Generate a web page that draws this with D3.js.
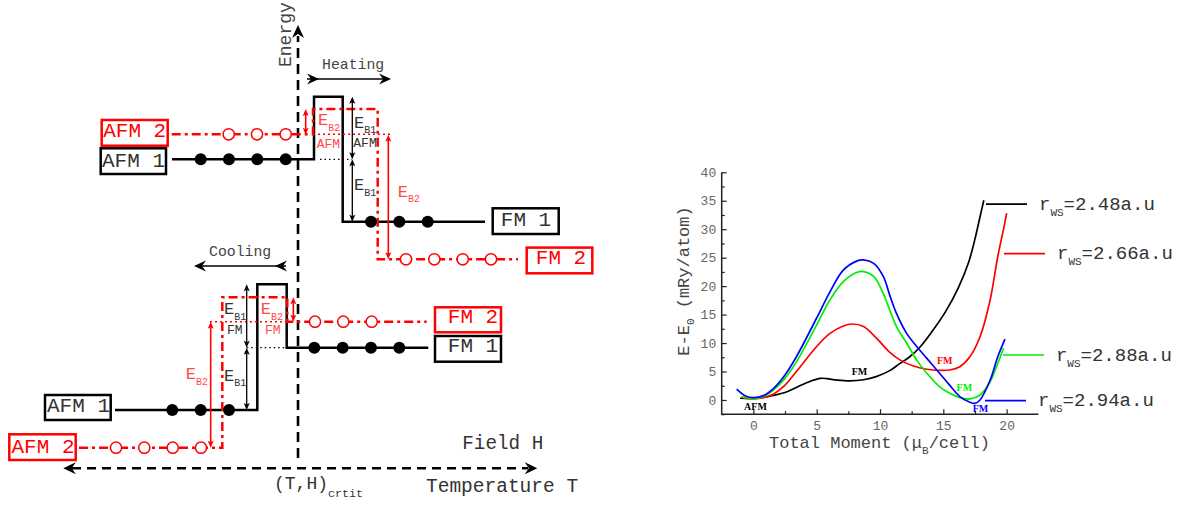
<!DOCTYPE html>
<html><head><meta charset="utf-8">
<script src="https://cdn.jsdelivr.net/npm/d3@7"></script>
<style>html,body{margin:0;padding:0;background:#fff;}svg{display:block}</style>
</head><body>
<svg id="c" width="1202" height="506"></svg>
<script>
// ---------------- DATA (right chart) ----------------
const rwsLabels = ["2.48", "2.66", "2.88", "2.94"];
const seriesColors = ["#000000", "#ff0000", "#00ee00", "#0000ff"];
const curve248 = [[-1.05,0.3],[0,0.3],[0.8,0.45],[1.6,0.8],[2.5,1.3],[3.4,2.2],[4.5,3.3],[5.3,3.8],[5.8,3.75],[6.6,3.5],[7.6,3.35],[8.7,3.55],[9.7,4.1],[10.8,5.2],[11.5,6.3],[12.3,7.5],[13.2,9.4],[14.2,12.3],[15.2,15.6],[16.2,19.8],[17.0,24.2],[17.5,28.3],[17.9,32.2],[18.2,35.1]];
const curve266 = [[-0.8,0.3],[0,0.2],[0.8,0.4],[1.6,1.05],[2.5,2.6],[3.4,5.0],[5,9.4],[6.05,11.7],[7.1,13.0],[7.8,13.35],[8.7,12.9],[9.7,10.9],[10.8,8.3],[11.6,7.0],[12.6,6.0],[13.7,5.4],[14.7,5.2],[15.5,5.27],[16.3,5.85],[17.1,7.6],[17.9,11.1],[18.7,17.6],[19.3,25.2],[19.8,30.5],[20,32.8]];
const curve288 = [[-0.95,0.6],[0,0.2],[0.8,0.6],[1.6,1.8],[2.5,3.8],[3.4,6.7],[5,13.2],[6.05,17.6],[7.1,20.8],[8.15,22.4],[8.7,22.55],[9.5,21.7],[10.26,18.7],[10.6,16.8],[11.3,12.9],[12.1,10.0],[12.9,7.0],[13.7,4.7],[14.7,2.35],[15.5,1.17],[16.3,0.41],[17.1,0.18],[17.9,0.88],[18.7,3.2],[19.2,5.85],[19.75,9.1]];
const curve294 = [[-1.32,1.9],[-0.66,0.76],[0,0.4],[0.8,0.76],[1.6,2.05],[2.5,4.4],[3.4,7.6],[5,14.4],[6.05,19],[7.1,22.8],[8.15,24.4],[8.7,24.6],[9.5,24.0],[10.26,21.7],[10.8,18.2],[11.3,15.2],[12.1,11.7],[12.9,9.4],[13.7,7.3],[14.7,4.7],[15.5,2.6],[16.3,0.6],[17.1,-0.4],[17.5,-0.6],[17.9,0],[18.7,3.5],[19.3,7.6],[19.87,10.7]];
const xTickValues = [0, 5, 10, 15, 20];
const xMinorTicks = [2.5, 7.5, 12.5, 17.5];
const yTickValues = [0, 5, 10, 15, 20, 25, 30, 35, 40];
const yMinorTicks = [-2.5, 2.5, 7.5, 12.5, 17.5, 22.5, 27.5, 32.5, 37.5];
const curveNames = [
  {t:"AFM", m:-0.73, e:-1.8, c:0},
  {t:"FM",  m:7.77,  e:4.4,  c:0},
  {t:"FM",  m:14.5,  e:6.3,  c:1},
  {t:"FM",  m:16.05, e:1.6,  c:2},
  {t:"FM",  m:17.32, e:-2.1, c:3}
];
const legendAnchors = [[18.37,34.4],[19.79,25.7],[19.71,7.9],[18.29,-0.12]];

// ---------------- DATA (left schematic, diagram coordinates) ----------------
const boxes = [
  {t:"AFM 2", x:101.7, y:120,   w:66,   h:25.7, tx:134.7, ty:137,   red:true},
  {t:"AFM 1", x:100.7, y:148.3, w:65.3, h:25.7, tx:133.5, ty:166.7, red:false},
  {t:"FM 1",  x:492.7, y:208.3, w:66,   h:25.7, tx:526,   ty:226,   red:false},
  {t:"FM 2",  x:526.7, y:247.6, w:65.6, h:25.7, tx:561,   ty:264,   red:true},
  {t:"FM 2",  x:435,   y:307.3, w:66,   h:25,   tx:473,   ty:323.3, red:true},
  {t:"FM 1",  x:435,   y:336,   w:66,   h:25.7, tx:473,   ty:351.7, red:false},
  {t:"AFM 1", x:45,    y:395,   w:65.7, h:25,   tx:78.5,  ty:412.3, red:false},
  {t:"AFM 2", x:9.3,   y:434.3, w:66.4, h:25.7, tx:43,    ty:452.7, red:true}
];
const blackPaths = [
  [[172,159.3],[314,159.3],[314,96.7],[342.7,96.7],[342.7,221.7],[485,221.7]],
  [[115,410],[257.3,410],[257.3,284.3],[286.7,284.3],[286.7,347.7],[428.3,347.7]]
];
const redPaths = [
  [[171.7,134.3],[313,134.3],[313,109],[377.7,109],[377.7,259.3],[518,259.3]],
  [[79,447.7],[222.3,447.7],[222.3,297.3],[287.3,297.3],[287.3,321.7],[426.7,321.7]]
];
const filledDots = [[200.7,159.3],[229,159.3],[257.3,159.3],[285.7,159.3],[371,221.7],[399.3,221.7],[427.7,221.7],
  [314.3,347.7],[342.7,347.7],[371,347.7],[399.3,347.7],[172.3,410],[200.7,410],[229,410]];
const openDots = [[228.7,134.3],[257,134.3],[285.7,134.3],[406,259.3],[434.3,259.3],[462.7,259.3],[491,259.3],
  [315,321.7],[343.3,321.7],[371.7,321.7],[116,447.7],[144.3,447.7],[172.7,447.7],[201,447.7]];
const redDotted = [[313,390.7,134.3],[210,287,321.7]];
const blackDotted = [[320,352,159.3],[246.7,287,347.7]];
const dblArrows = [
  {x:305.7, y1:109,   y2:134.7, red:true},
  {x:352.3, y1:96.7,  y2:159.3, red:false},
  {x:352.3, y1:159.3, y2:221.7, red:false},
  {x:388.3, y1:134.7, y2:259.3, red:true},
  {x:293.3, y1:297.3, y2:321.7, red:true},
  {x:246.7, y1:284.3, y2:347.7, red:false},
  {x:246.7, y1:347.7, y2:410,   red:false},
  {x:210.7, y1:321.7, y2:447.7, red:true}
];
const ebLabels = [
  {x:318,   y:125.3, s:"B2", red:true},
  {x:354,   y:127.7, s:"B1", red:false},
  {x:354,   y:190,   s:"B1", red:false},
  {x:397.7, y:196.7, s:"B2", red:true},
  {x:224,   y:314,   s:"B1", red:false},
  {x:260.7, y:314,   s:"B2", red:true},
  {x:224,   y:380.7, s:"B1", red:false},
  {x:185.7, y:379.3, s:"B2", red:true}
];
const phaseTags = [
  {t:"AFM", x:316.7, y:147.7, red:true},
  {t:"AFM", x:353.3, y:146.7, red:false},
  {t:"FM",  x:227,   y:334,   red:false},
  {t:"FM",  x:265,   y:334,   red:true}
];

// ---------------- DRAW ----------------
const svg = d3.select("#c");
svg.append("rect").attr("width",1202).attr("height",506).attr("fill","#fff");
const MONO = "'Liberation Mono','Courier New',monospace";
const RED = "#ff0000", LRED = "#ff4a4a", TXT = "#333";

// ---------- left schematic ----------
const L = svg.append("g");
const lineGen = d3.line();

function arrowHead(g, tx, ty, dx, dy, len, hw, notch, color){
  // dx,dy unit direction of pointing
  const px = -dy, py = dx;
  const bx = tx - dx*len, by = ty - dy*len;
  const nx = tx - dx*(len-notch), ny = ty - dy*(len-notch);
  g.append("path").attr("d", `M${tx},${ty}L${bx+px*hw},${by+py*hw}L${nx},${ny}L${bx-px*hw},${by-py*hw}Z`).attr("fill", color);
}

// energy axis
L.append("line").attr("x1",298).attr("x2",298).attr("y1",458).attr("y2",36)
  .attr("stroke","#000").attr("stroke-width",2.6).attr("stroke-dasharray","10,6");
arrowHead(L, 298, 25, 0, -1, 13, 6, 4, "#000");
L.append("text").attr("transform","translate(291,67) rotate(-90)").attr("font-family",MONO)
  .attr("font-size",18).attr("fill","#444").text("Energy");

// bottom double-headed dashed axis
L.append("line").attr("x1",72).attr("x2",528).attr("y1",468.3).attr("y2",468.3)
  .attr("stroke","#000").attr("stroke-width",2.6).attr("stroke-dasharray","9,6");
arrowHead(L, 63.3, 468.3, -1, 0, 12.5, 6, 4, "#000");
arrowHead(L, 537.3, 468.3, 1, 0, 12.5, 6, 4, "#000");

// heating / cooling arrows
L.append("line").attr("x1",307).attr("x2",389).attr("y1",79).attr("y2",79).attr("stroke","#000").attr("stroke-width",1.5);
arrowHead(L, 391, 79, 1, 0, 12, 5.5, 4, "#000");
arrowHead(L, 319, 79, 1, 0, 12, 5.5, 4, "#000");
L.append("line").attr("x1",196).attr("x2",286).attr("y1",266).attr("y2",266).attr("stroke","#000").attr("stroke-width",1.5);
arrowHead(L, 194, 266, -1, 0, 12, 5.5, 4, "#000");
arrowHead(L, 275, 266, -1, 0, 12, 5.5, 4, "#000");
L.append("text").attr("x",322).attr("y",69).attr("font-family",MONO).attr("font-size",14.8).attr("fill","#444").text("Heating");
L.append("text").attr("x",209).attr("y",256).attr("font-family",MONO).attr("font-size",14.8).attr("fill","#444").text("Cooling");

// level paths
blackPaths.forEach(p => L.append("path").attr("d", lineGen(p)).attr("fill","none")
  .attr("stroke","#000").attr("stroke-width",2.5));
redPaths.forEach(p => L.append("path").attr("d", lineGen(p)).attr("fill","none")
  .attr("stroke",RED).attr("stroke-width",2.5).attr("stroke-dasharray","9,4,3,4"));

// dotted guide lines
redDotted.forEach(d => L.append("line").attr("x1",d[0]).attr("x2",d[1]).attr("y1",d[2]).attr("y2",d[2])
  .attr("stroke",RED).attr("stroke-width",1.5).attr("stroke-dasharray","2,3"));
blackDotted.forEach(d => L.append("line").attr("x1",d[0]).attr("x2",d[1]).attr("y1",d[2]).attr("y2",d[2])
  .attr("stroke","#000").attr("stroke-width",1.3).attr("stroke-dasharray","1.5,3"));

// dots
L.selectAll("circle.f").data(filledDots).enter().append("circle").attr("class","f")
  .attr("cx",d=>d[0]).attr("cy",d=>d[1]).attr("r",6).attr("fill","#000");
L.selectAll("circle.o").data(openDots).enter().append("circle").attr("class","o")
  .attr("cx",d=>d[0]).attr("cy",d=>d[1]).attr("r",5.6).attr("fill","#fff").attr("stroke",RED).attr("stroke-width",1.5);

// double arrows
dblArrows.forEach(a => {
  const c = a.red ? RED : "#000";
  L.append("line").attr("x1",a.x).attr("x2",a.x).attr("y1",a.y1+3).attr("y2",a.y2-3)
    .attr("stroke",c).attr("stroke-width",a.red?1.6:1.3);
  arrowHead(L, a.x, a.y1, 0, -1, 7, 3, 1.5, c);
  arrowHead(L, a.x, a.y2, 0, 1, 7, 3, 1.5, c);
});

// E_B labels
ebLabels.forEach(l => {
  const t = L.append("text").attr("x",l.x).attr("y",l.y).attr("font-family",MONO)
    .attr("fill", l.red ? LRED : TXT);
  t.append("tspan").attr("font-size",17).text("E");
  t.append("tspan").attr("font-size",10).attr("dy",5.5).text(l.s);
});
phaseTags.forEach(l => L.append("text").attr("x",l.x).attr("y",l.y).attr("font-family",MONO)
  .attr("font-size",13).attr("fill", l.red ? LRED : TXT).text(l.t));

// boxes
boxes.forEach(b => {
  L.append("rect").attr("x",b.x).attr("y",b.y).attr("width",b.w).attr("height",b.h)
    .attr("fill","#fff").attr("stroke", b.red ? RED : "#000").attr("stroke-width",2.5);
  L.append("text").attr("x",b.tx).attr("y",b.ty).attr("text-anchor","middle").attr("font-family",MONO)
    .attr("font-size",21).attr("fill", b.red ? RED : TXT).text(b.t);
});

// axis texts
L.append("text").attr("x",462.3).attr("y",449.3).attr("font-family",MONO).attr("font-size",19.3).attr("fill",TXT).text("Field H");
L.append("text").attr("x",426).attr("y",491.7).attr("font-family",MONO).attr("font-size",19.5).attr("fill",TXT).text("Temperature T");
{
  const t = L.append("text").attr("x",274).attr("y",489).attr("font-family",MONO).attr("fill",TXT);
  t.append("tspan").attr("font-size",18).text("(T,H)");
  t.append("tspan").attr("font-size",11.7).attr("dy",7.5).text("crtit");
}

// ---------- right chart ----------
const R = svg.append("g");
const x = d3.scaleLinear().domain([-2.5, 22.5]).range([721.7, 1038.3]);
const y = d3.scaleLinear().domain([-2.5, 40]).range([414.2, 172.3]);

const yAxis = d3.axisLeft(y).tickValues(yTickValues).tickSizeInner(-5).tickSizeOuter(0).tickPadding(5.5);
const gy = R.append("g").attr("transform",`translate(${x(-2.5)},0)`).call(yAxis);
const gyMinor = R.append("g").attr("transform",`translate(${x(-2.5)},0)`)
  .call(d3.axisLeft(y).tickValues(yMinorTicks).tickSizeInner(-3).tickSizeOuter(0).tickFormat(""));
const xAxis = d3.axisBottom(x).tickValues(xTickValues).tickSizeInner(-5).tickSizeOuter(0).tickPadding(7);
const gx = R.append("g").attr("transform",`translate(0,${y(-2.5)})`).call(xAxis);
const gxMinor = R.append("g").attr("transform",`translate(0,${y(-2.5)})`)
  .call(d3.axisBottom(x).tickValues(xMinorTicks).tickSizeInner(-3).tickSizeOuter(0).tickFormat(""));
[gy, gyMinor, gx, gxMinor].forEach(g => {
  g.select(".domain").remove();
  g.selectAll(".tick line").attr("stroke","#222").attr("stroke-width",1.2);
  g.selectAll(".tick text").attr("font-family",MONO).attr("font-size",13).attr("fill","#666");
});
R.append("path").attr("d", d3.line()([[x(-2.5),y(40)],[x(-2.5),y(-2.5)],[x(22.5),y(-2.5)]]))
  .attr("fill","none").attr("stroke","#222").attr("stroke-width",1.5);

// curves
const curveLine = d3.line().x(d=>x(d[0])).y(d=>y(d[1])).curve(d3.curveCatmullRom.alpha(0.5));
[curve248, curve266, curve288, curve294].forEach((c,i) => {
  R.append("path").attr("d", curveLine(c)).attr("fill","none")
    .attr("stroke", seriesColors[i]).attr("stroke-width",1.7);
});

// curve labels
curveNames.forEach(n => R.append("text").attr("x",x(n.m)).attr("y",y(n.e))
  .attr("font-family","'Liberation Serif','Times New Roman',serif").attr("font-weight","bold")
  .attr("font-size",10).attr("fill",seriesColors[n.c]).text(n.t));

// legend
legendAnchors.forEach((a,i) => {
  const x0 = x(a[0]), yy = y(a[1]);
  R.append("line").attr("x1",x0).attr("x2",x0+41).attr("y1",yy).attr("y2",yy)
    .attr("stroke",seriesColors[i]).attr("stroke-width",1.7);
  const t = R.append("text").attr("x",x0+53).attr("y",yy+5.7).attr("font-family",MONO).attr("fill",TXT);
  t.append("tspan").attr("font-size",19).text("r");
  t.append("tspan").attr("font-size",11).attr("dy",6).text("WS");
  t.append("tspan").attr("font-size",19).attr("dy",-6).text("=" + rwsLabels[i] + "a.u");
});

// axis titles
{
  const t = R.append("text").attr("x",769).attr("y",448.3).attr("font-family",MONO).attr("fill","#444");
  t.append("tspan").attr("font-size",17).text("Total Moment (\u03bc");
  t.append("tspan").attr("font-size",11).attr("dy",6).text("B");
  t.append("tspan").attr("font-size",17).attr("dy",-6).text("/cell)");
}
{
  const t = R.append("text").attr("transform","translate(689,281) rotate(-90)").attr("text-anchor","middle")
    .attr("font-family",MONO).attr("fill","#444");
  t.append("tspan").attr("font-size",17).text("E-E");
  t.append("tspan").attr("font-size",11).attr("dy",5).text("0");
  t.append("tspan").attr("font-size",17).attr("dy",-5).text(" (mRy/atom)");
}
</script>
</body></html>
